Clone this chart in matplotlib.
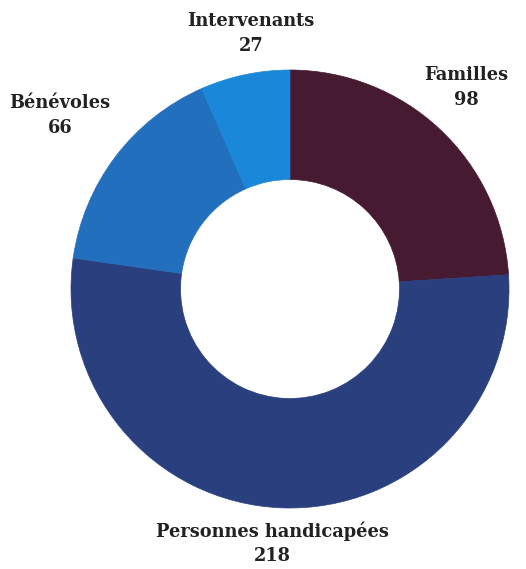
import matplotlib
matplotlib.use("Agg")
import matplotlib.pyplot as plt

categories = ["Familles", "Personnes handicapées", "Bénévoles", "Intervenants"]
values = [98, 218, 66, 27]
colors = ["#461a31", "#2a3f7e", "#2270bd", "#1b87d9"]

W, H = 526, 569
fig = plt.figure(figsize=(W / 100, H / 100), dpi=100)
ax = fig.add_axes([0, 0, 1, 1])

cx, cy, R = 290, H - 289, 219
wedges, _ = ax.pie(values, colors=colors, startangle=90, counterclock=False,
                   center=(cx, cy), radius=R, frame=True,
                   wedgeprops=dict(width=R * 0.5, linewidth=0))
for w in wedges:
    w.set_edgecolor(w.get_facecolor())
    w.set_linewidth(0.5)
ax.set_xlim(0, W)
ax.set_ylim(0, H)
ax.axis("off")

label_pos = {
    "Familles": (466, 75),
    "Personnes handicapées": (272, 531),
    "Bénévoles": (60, 103),
    "Intervenants": (251, 21),
}
font = dict(family="DejaVu Serif", fontsize=12.8, fontweight="bold", color="#222222")
for cat, val in zip(categories, values):
    x, y = label_pos[cat]
    ax.text(x, H - y, cat, ha="center", va="center", **font)
    ax.text(x, H - y - 25, str(val), ha="center", va="center", **font)

fig.savefig("out.png", dpi=100, facecolor="white")
